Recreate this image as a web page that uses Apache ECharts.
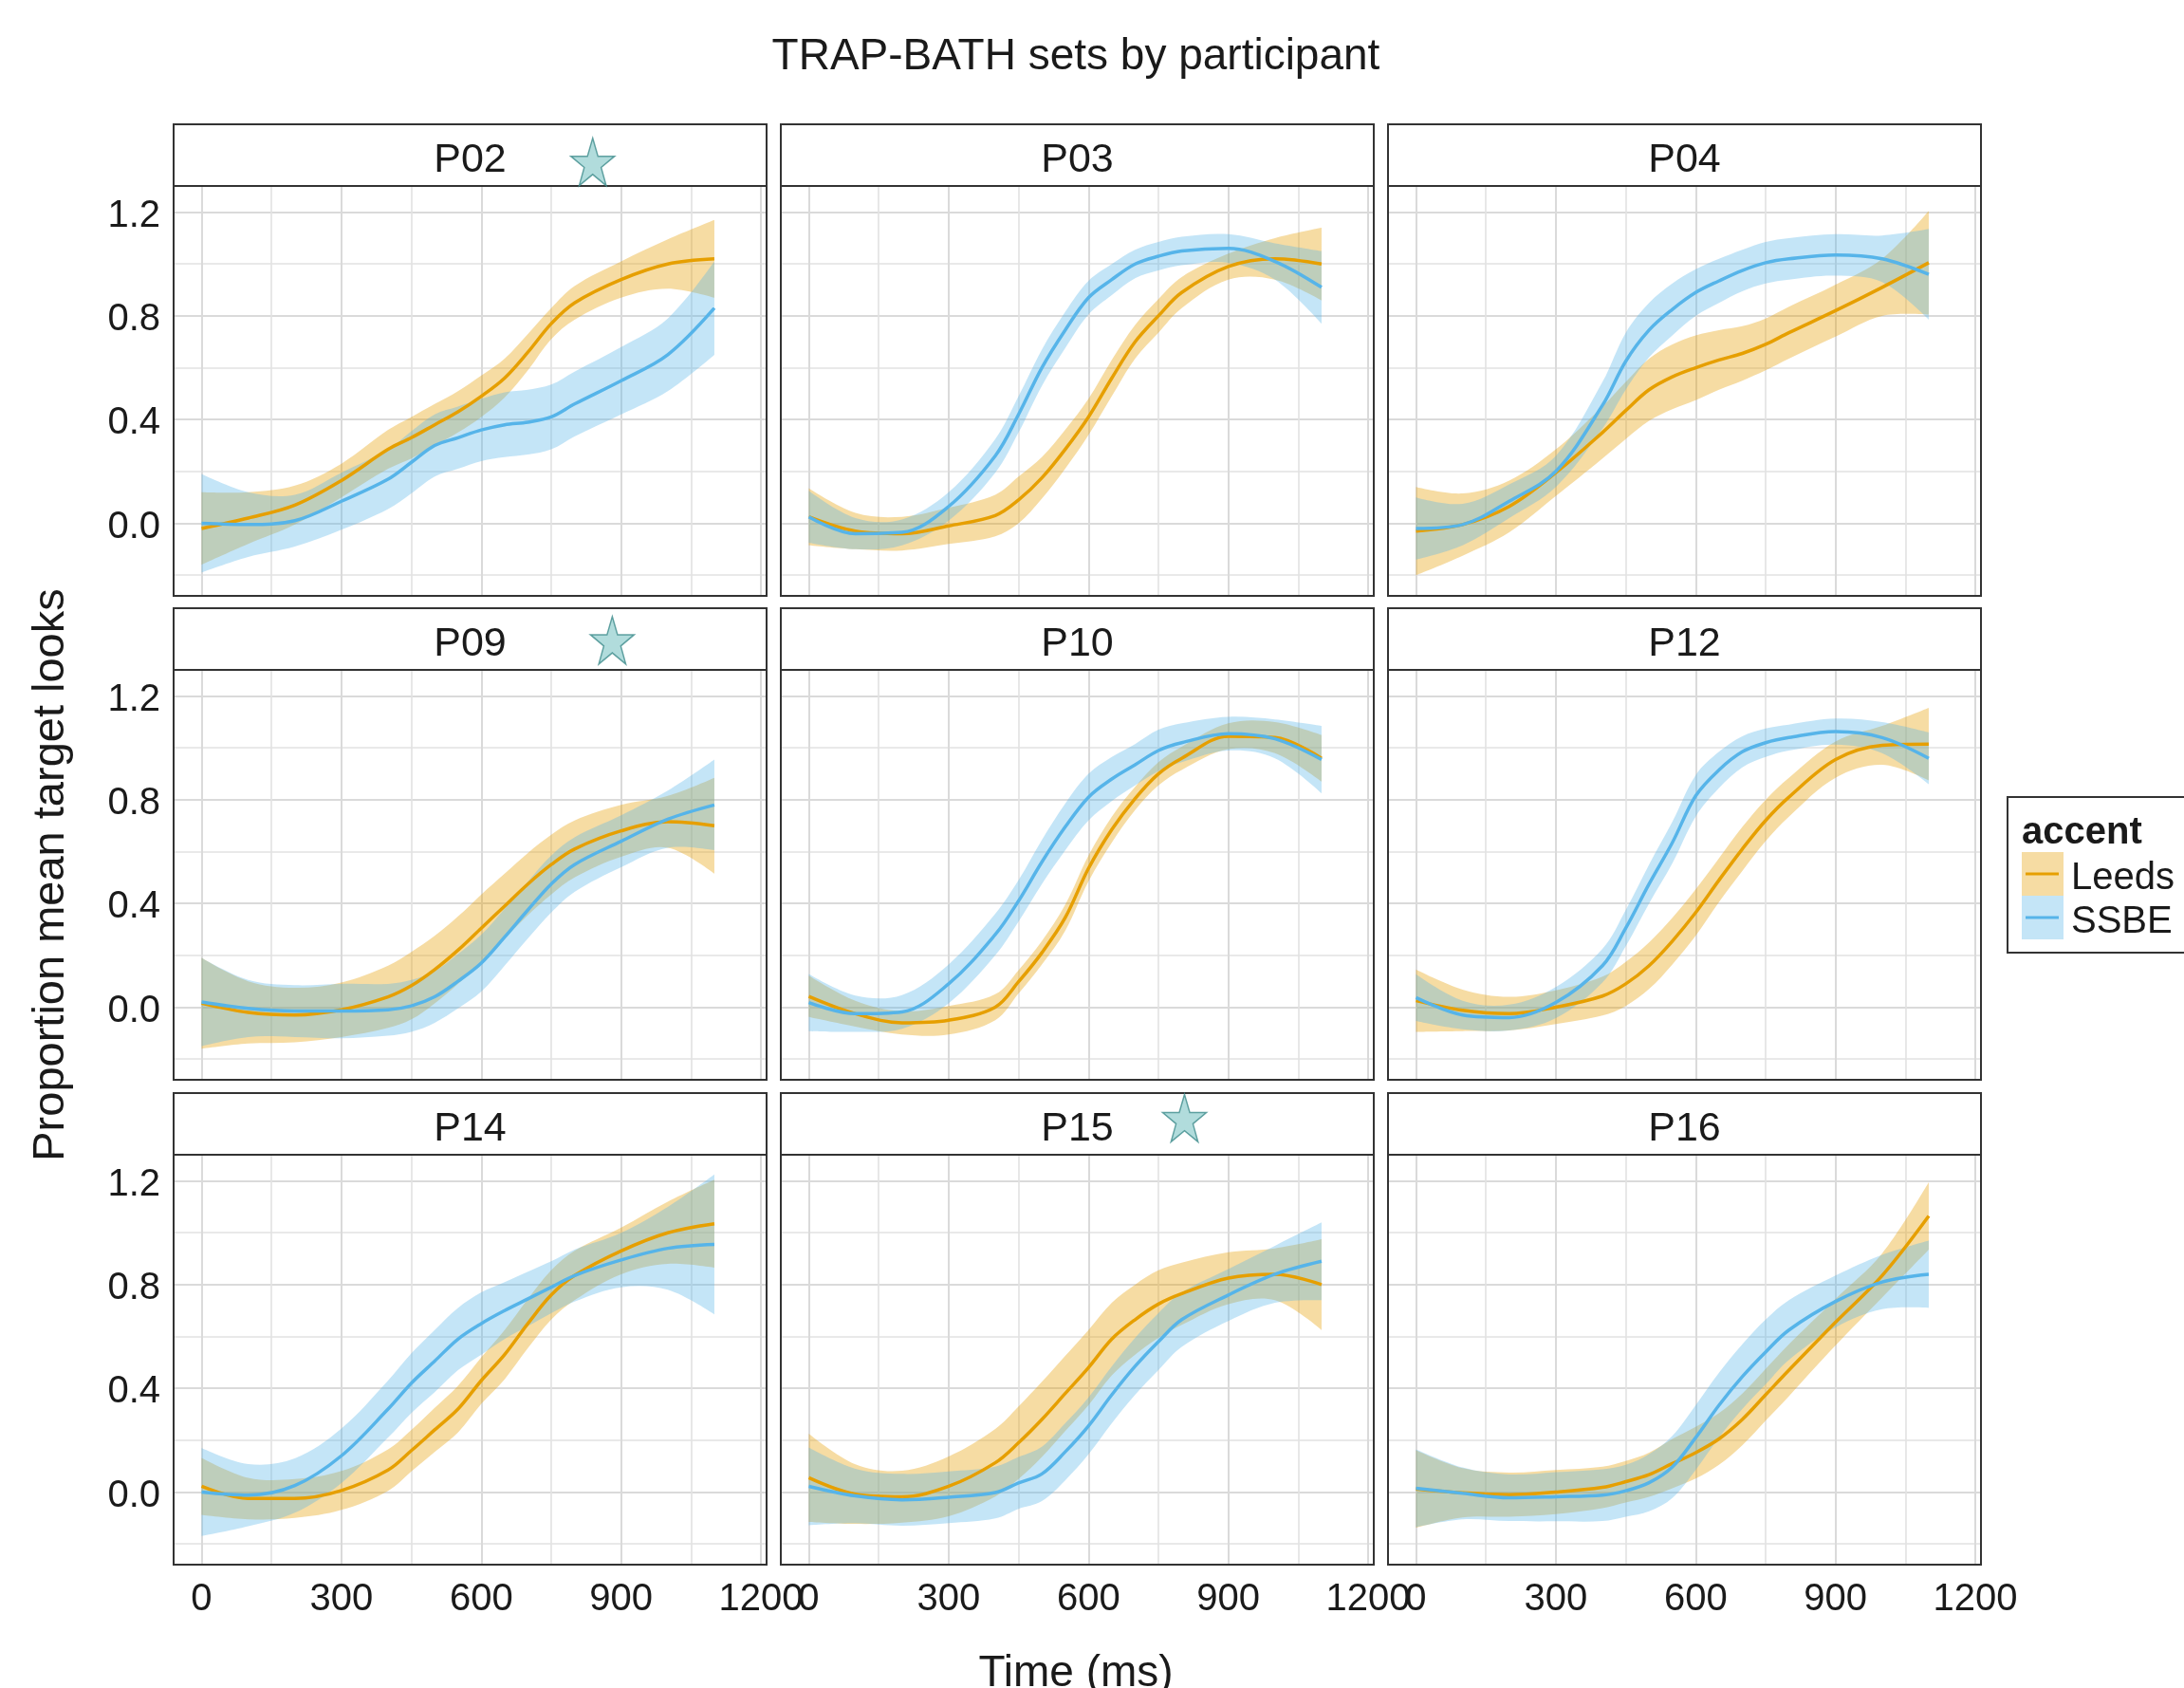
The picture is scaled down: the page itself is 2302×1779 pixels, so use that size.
<!DOCTYPE html>
<html>
<head>
<meta charset="utf-8">
<title>TRAP-BATH sets by participant</title>
<script src="https://cdn.jsdelivr.net/npm/echarts@6/dist/echarts.min.js"></script>
<style>
html, body { margin: 0; padding: 0; background: #fff; }
#chart { width: 2302px; height: 1779px; }
</style>
</head>
<body>
<div id="chart"></div>
<script>
// time points (ms) the curves were read at
var times = [0, 100, 200, 300, 400, 450, 500, 550, 600, 650, 700, 750, 800, 900, 1000, 1100];
var panels = ['P02', 'P03', 'P04', 'P09', 'P10', 'P12', 'P14', 'P15', 'P16'];
var accents = ['Leeds', 'SSBE'];
var xTicks = [0, 300, 600, 900, 1200];
var xMinor = [150, 450, 750, 1050];
var yTicks = [0, 0.4, 0.8, 1.2];
var yMinor = [-0.2, 0.2, 0.6, 1.0];

// fitted mean and half width of the ribbon, per participant and accent
var p02Leeds   = [-0.02, 0.02, 0.07, 0.165, 0.285, 0.33, 0.38, 0.43, 0.49, 0.56, 0.66, 0.77, 0.85, 0.94, 1.0, 1.02];
var p02LeedsCi = [0.14, 0.10, 0.075, 0.065, 0.075, 0.08, 0.08, 0.08, 0.08, 0.075, 0.07, 0.06, 0.065, 0.07, 0.095, 0.15];
var p02Ssbe    = [0.0, -0.005, 0.01, 0.085, 0.17, 0.235, 0.3, 0.33, 0.36, 0.38, 0.39, 0.41, 0.46, 0.55, 0.65, 0.83];
var p02SsbeCi  = [0.19, 0.125, 0.1, 0.11, 0.115, 0.12, 0.12, 0.12, 0.12, 0.125, 0.125, 0.125, 0.125, 0.13, 0.14, 0.18];

var p03Leeds   = [0.025, -0.03, -0.04, -0.01, 0.03, 0.09, 0.175, 0.285, 0.41, 0.56, 0.70, 0.80, 0.89, 0.99, 1.02, 1.0];
var p03LeedsCi = [0.11, 0.07, 0.065, 0.07, 0.08, 0.09, 0.08, 0.075, 0.07, 0.07, 0.065, 0.065, 0.06, 0.05, 0.08, 0.14];
var p03Ssbe    = [0.025, -0.04, -0.035, 0.065, 0.26, 0.42, 0.6, 0.745, 0.87, 0.94, 1.0, 1.03, 1.05, 1.06, 1.01, 0.91];
var p03SsbeCi  = [0.1, 0.06, 0.05, 0.055, 0.065, 0.07, 0.07, 0.07, 0.065, 0.06, 0.055, 0.055, 0.055, 0.055, 0.07, 0.14];

var p04Leeds   = [-0.03, -0.005, 0.065, 0.195, 0.35, 0.435, 0.515, 0.565, 0.6, 0.63, 0.655, 0.69, 0.735, 0.82, 0.91, 1.005];
var p04LeedsCi = [0.17, 0.12, 0.1, 0.09, 0.1, 0.11, 0.12, 0.125, 0.125, 0.115, 0.105, 0.1, 0.1, 0.1, 0.11, 0.2];
var p04Ssbe    = [-0.02, -0.005, 0.085, 0.2, 0.455, 0.625, 0.745, 0.825, 0.89, 0.935, 0.975, 1.005, 1.02, 1.035, 1.02, 0.96];
var p04SsbeCi  = [0.12, 0.08, 0.065, 0.06, 0.09, 0.11, 0.105, 0.1, 0.09, 0.085, 0.08, 0.08, 0.08, 0.08, 0.09, 0.175];

var p09Leeds   = [0.015, -0.02, -0.03, -0.01, 0.04, 0.083, 0.145, 0.22, 0.305, 0.39, 0.475, 0.55, 0.61, 0.68, 0.715, 0.70];
var p09LeedsCi = [0.175, 0.12, 0.105, 0.105, 0.12, 0.13, 0.13, 0.13, 0.13, 0.125, 0.12, 0.115, 0.11, 0.1, 0.1, 0.185];
var p09Ssbe    = [0.02, -0.005, -0.015, -0.015, -0.01, 0.005, 0.04, 0.1, 0.17, 0.27, 0.375, 0.475, 0.55, 0.64, 0.725, 0.78];
var p09SsbeCi  = [0.17, 0.11, 0.1, 0.105, 0.1, 0.1, 0.1, 0.105, 0.11, 0.11, 0.11, 0.11, 0.105, 0.1, 0.11, 0.175];

var p10Leeds   = [0.042, -0.025, -0.06, -0.05, 0.0, 0.098, 0.21, 0.345, 0.535, 0.685, 0.805, 0.9, 0.96, 1.045, 1.04, 0.96];
var p10LeedsCi = [0.08, 0.05, 0.045, 0.055, 0.05, 0.045, 0.045, 0.05, 0.05, 0.05, 0.045, 0.045, 0.045, 0.05, 0.06, 0.09];
var p10Ssbe    = [0.018, -0.025, -0.018, 0.09, 0.28, 0.41, 0.56, 0.695, 0.81, 0.88, 0.935, 0.99, 1.02, 1.055, 1.035, 0.955];
var p10SsbeCi  = [0.11, 0.07, 0.065, 0.075, 0.08, 0.08, 0.085, 0.09, 0.09, 0.085, 0.08, 0.08, 0.075, 0.065, 0.075, 0.13];

var p12Leeds   = [0.025, -0.012, -0.025, 0.0, 0.043, 0.09, 0.16, 0.255, 0.365, 0.49, 0.61, 0.72, 0.81, 0.955, 1.01, 1.015];
var p12LeedsCi = [0.12, 0.08, 0.065, 0.065, 0.075, 0.085, 0.09, 0.09, 0.09, 0.085, 0.085, 0.08, 0.075, 0.07, 0.075, 0.14];
var p12Ssbe    = [0.037, -0.03, -0.04, 0.018, 0.16, 0.305, 0.475, 0.635, 0.815, 0.915, 0.985, 1.02, 1.04, 1.063, 1.04, 0.96];
var p12SsbeCi  = [0.09, 0.055, 0.05, 0.06, 0.065, 0.07, 0.075, 0.08, 0.08, 0.07, 0.06, 0.055, 0.05, 0.05, 0.06, 0.1];

var p14Leeds   = [0.022, -0.025, -0.025, 0.006, 0.085, 0.16, 0.24, 0.32, 0.43, 0.53, 0.65, 0.76, 0.835, 0.93, 1.0, 1.035];
var p14LeedsCi = [0.11, 0.08, 0.075, 0.075, 0.08, 0.08, 0.085, 0.09, 0.09, 0.095, 0.095, 0.095, 0.095, 0.09, 0.12, 0.17];
var p14Ssbe    = [0.0, -0.012, 0.025, 0.14, 0.32, 0.42, 0.505, 0.59, 0.65, 0.70, 0.745, 0.79, 0.835, 0.895, 0.94, 0.955];
var p14SsbeCi  = [0.17, 0.12, 0.105, 0.105, 0.11, 0.115, 0.12, 0.12, 0.12, 0.11, 0.105, 0.1, 0.1, 0.105, 0.16, 0.27];

var p15Leeds   = [0.055, -0.008, -0.018, 0.022, 0.113, 0.19, 0.28, 0.38, 0.48, 0.59, 0.665, 0.725, 0.765, 0.825, 0.84, 0.80];
var p15LeedsCi = [0.17, 0.115, 0.1, 0.115, 0.13, 0.14, 0.145, 0.145, 0.145, 0.14, 0.135, 0.13, 0.12, 0.1, 0.1, 0.175];
var p15Ssbe    = [0.022, -0.015, -0.03, -0.02, -0.002, 0.035, 0.07, 0.155, 0.255, 0.375, 0.485, 0.58, 0.665, 0.76, 0.84, 0.89];
var p15SsbeCi  = [0.15, 0.105, 0.1, 0.1, 0.1, 0.1, 0.105, 0.11, 0.11, 0.11, 0.11, 0.11, 0.105, 0.1, 0.11, 0.15];

var p16Leeds   = [0.012, -0.003, -0.01, 0.0, 0.018, 0.04, 0.067, 0.11, 0.152, 0.205, 0.28, 0.375, 0.47, 0.655, 0.835, 1.065];
var p16LeedsCi = [0.15, 0.095, 0.085, 0.085, 0.08, 0.08, 0.085, 0.095, 0.1, 0.1, 0.1, 0.1, 0.1, 0.09, 0.085, 0.13];
var p16Ssbe    = [0.015, -0.005, -0.022, -0.018, -0.012, 0.005, 0.036, 0.097, 0.21, 0.335, 0.445, 0.54, 0.625, 0.735, 0.81, 0.84];
var p16SsbeCi  = [0.15, 0.1, 0.09, 0.095, 0.1, 0.1, 0.11, 0.12, 0.125, 0.125, 0.125, 0.125, 0.115, 0.1, 0.105, 0.13];

// star markers placed in the strips of some panels
var starPanels = ['P02', 'P09', 'P15'];
var starX = [839, 881, 806];
var starY = [1.394, 1.415, 1.442];

var curves = {
    P02: [[p02Leeds, p02LeedsCi], [p02Ssbe, p02SsbeCi]],
    P03: [[p03Leeds, p03LeedsCi], [p03Ssbe, p03SsbeCi]],
    P04: [[p04Leeds, p04LeedsCi], [p04Ssbe, p04SsbeCi]],
    P09: [[p09Leeds, p09LeedsCi], [p09Ssbe, p09SsbeCi]],
    P10: [[p10Leeds, p10LeedsCi], [p10Ssbe, p10SsbeCi]],
    P12: [[p12Leeds, p12LeedsCi], [p12Ssbe, p12SsbeCi]],
    P14: [[p14Leeds, p14LeedsCi], [p14Ssbe, p14SsbeCi]],
    P15: [[p15Leeds, p15LeedsCi], [p15Ssbe, p15SsbeCi]],
    P16: [[p16Leeds, p16LeedsCi], [p16Ssbe, p16SsbeCi]]
};

var lineColors = ['#E69F00', '#56B4E9'];
var fillColors = ['rgba(230,159,0,0.36)', 'rgba(86,180,233,0.35)'];
var FONT = '"Liberation Sans", Arial, sans-serif';
var SMOOTH = 0.35;
var starPath = 'path://M50,0 L61.8,35.4 L99,35.4 L69,57.3 L80.3,92.7 L50,70.8 L19.7,92.7 L31,57.3 L1,35.4 L38.2,35.4 Z';

var colLeft = [183, 823, 1463];
var rowTop = [196, 706, 1217];
var panelW = 625, panelH = 432, stripH = 65;

// bezier path through pixel points, same control point rule as echarts line smoothing
function curvePath(pts, start) {
    var n = pts.length;
    var cps = pts.map(function (p, k) {
        if (k === 0 || k === n - 1) return [p, p];
        var prev = pts[k - 1], next = pts[k + 1];
        var vx = next[0] - prev[0], vy = next[1] - prev[1];
        var l0 = Math.hypot(p[0] - prev[0], p[1] - prev[1]);
        var l1 = Math.hypot(next[0] - p[0], next[1] - p[1]);
        var r = l1 / (l0 + l1);
        return [[p[0] - vx * SMOOTH * (1 - r), p[1] - vy * SMOOTH * (1 - r)],
                [p[0] + vx * SMOOTH * r, p[1] + vy * SMOOTH * r]];
    });
    var d = start + pts[0][0] + ',' + pts[0][1];
    for (var k = 0; k < n - 1; k++) {
        d += ' C' + cps[k][1][0] + ',' + cps[k][1][1] + ' ' + cps[k + 1][0][0] + ',' + cps[k + 1][0][1] +
             ' ' + pts[k + 1][0] + ',' + pts[k + 1][1];
    }
    return d;
}

function ribbon(i, mean, ci, color) {
    var rows = times.map(function (t, k) { return [t, mean[k] - ci[k], mean[k] + ci[k]]; });
    return {
        type: 'custom', xAxisIndex: i, yAxisIndex: i, silent: true, z: 2,
        encode: { x: 0, y: [1, 2] },
        data: rows,
        renderItem: function (params, api) {
            if (params.dataIndex !== 0) return;
            var up = rows.map(function (d) { return api.coord([d[0], d[2]]); });
            var lo = rows.map(function (d) { return api.coord([d[0], d[1]]); }).reverse();
            var path = curvePath(up, 'M') + ' ' + curvePath(lo, 'L') + ' Z';
            return { type: 'path', shape: { pathData: path }, style: { fill: color } };
        }
    };
}

var myChart = echarts.init(document.getElementById('chart'));

var grids = [], xAxes = [], yAxes = [], series = [], graphics = [];

panels.forEach(function (name, i) {
    var c = i % 3, r = Math.floor(i / 3);
    var left = colLeft[c], top = rowTop[r];

    grids.push({
        left: left, top: top, width: panelW, height: panelH,
        show: true, z: 10, backgroundColor: 'transparent',
        borderColor: '#333', borderWidth: 2
    });
    xAxes.push({
        type: 'value', gridIndex: i, min: -60, max: 1212,
        axisLine: { show: false }, splitLine: { show: false },
        axisTick: { show: r === 2, customValues: xTicks, length: 8, lineStyle: { color: '#333', width: 2 } },
        axisLabel: {
            show: r === 2, customValues: xTicks, margin: 17, fontSize: 40, color: '#1a1a1a', fontFamily: FONT,
            formatter: function (v) { return String(v); }
        }
    });
    yAxes.push({
        type: 'value', gridIndex: i, min: -0.28, max: 1.301,
        axisLine: { show: false }, splitLine: { show: false },
        axisTick: { show: c === 0, customValues: yTicks, length: 8, lineStyle: { color: '#333', width: 2 } },
        axisLabel: {
            show: c === 0, customValues: yTicks, margin: 14, fontSize: 40, color: '#1a1a1a', fontFamily: FONT,
            verticalAlign: 'top', lineHeight: 8,
            formatter: function (v) { return v.toFixed(1); }
        }
    });

    // panel grid lines
    var gl = [];
    yMinor.forEach(function (v) { gl.push({ yAxis: v, lineStyle: { color: '#E2E2E2', width: 1.6, type: 'solid' } }); });
    yTicks.forEach(function (v) { gl.push({ yAxis: v, lineStyle: { color: '#DADADA', width: 2, type: 'solid' } }); });
    xMinor.forEach(function (v) { gl.push({ xAxis: v, lineStyle: { color: '#E2E2E2', width: 1.6, type: 'solid' } }); });
    xTicks.forEach(function (v) { gl.push({ xAxis: v, lineStyle: { color: '#DADADA', width: 2, type: 'solid' } }); });
    series.push({
        type: 'line', xAxisIndex: i, yAxisIndex: i, data: [], silent: true, z: 1,
        markLine: { z: 1, silent: true, symbol: ['none', 'none'], label: { show: false }, animation: false, data: gl }
    });

    accents.forEach(function (acc, a) {
        var mean = curves[name][a][0], ci = curves[name][a][1];
        series.push(ribbon(i, mean, ci, fillColors[a]));
        series.push({
            type: 'line', name: acc, xAxisIndex: i, yAxisIndex: i, z: 2,
            smooth: SMOOTH, symbol: 'none', silent: true,
            lineStyle: { color: lineColors[a], width: 3.5 },
            data: times.map(function (t, k) { return [t, mean[k]]; })
        });
    });

    var s = starPanels.indexOf(name);
    if (s >= 0) {
        series.push({
            type: 'scatter', xAxisIndex: i, yAxisIndex: i, clip: false, z: 20, silent: true,
            symbol: starPath, symbolSize: [46, 50],
            itemStyle: { color: '#9ED3D3', borderColor: '#3F8C8C', borderWidth: 1.5 },
            data: [[starX[s], starY[s]]]
        });
    }

    // facet strip
    graphics.push({
        type: 'rect', shape: { x: left, y: top - stripH, width: panelW, height: stripH },
        style: { fill: '#fff', stroke: '#333', lineWidth: 2 }, z: 5
    });
    graphics.push({
        type: 'text', z: 6,
        style: {
            text: name, x: left + panelW / 2, y: top - stripH / 2 + 6,
            textAlign: 'center', textVerticalAlign: 'middle',
            font: '43px ' + FONT, fill: '#1a1a1a'
        }
    });
});

// titles
graphics.push({
    type: 'text', z: 6,
    style: { text: 'TRAP-BATH sets by participant', x: 1134, y: 60, textAlign: 'center', textVerticalAlign: 'middle', font: '46px ' + FONT, fill: '#1a1a1a' }
});
graphics.push({
    type: 'text', z: 6,
    style: { text: 'Time (ms)', x: 1134, y: 1764, textAlign: 'center', textVerticalAlign: 'middle', font: '46px ' + FONT, fill: '#1a1a1a' }
});
graphics.push({
    type: 'text', z: 6, x: 54, y: 922, rotation: Math.PI / 2,
    style: { text: 'Proportion mean target looks', x: 0, y: 0, textAlign: 'center', textVerticalAlign: 'middle', font: '47px ' + FONT, fill: '#1a1a1a' }
});

// legend
graphics.push({
    type: 'rect', z: 5, shape: { x: 2116, y: 840, width: 220, height: 164 },
    style: { fill: '#fff', stroke: '#333', lineWidth: 2 }
});
graphics.push({
    type: 'text', z: 6,
    style: { text: 'accent', x: 2131, y: 878, textVerticalAlign: 'middle', font: 'bold 40px ' + FONT, fill: '#1a1a1a' }
});
accents.forEach(function (acc, a) {
    var ky = 898 + a * 46;
    graphics.push({ type: 'rect', z: 6, shape: { x: 2131, y: ky, width: 44, height: 46 }, style: { fill: fillColors[a] } });
    graphics.push({ type: 'line', z: 7, shape: { x1: 2135, y1: ky + 23, x2: 2170, y2: ky + 23 }, style: { stroke: lineColors[a], lineWidth: 3 } });
    graphics.push({
        type: 'text', z: 7,
        style: { text: acc, x: 2183, y: ky + 28, textVerticalAlign: 'middle', font: '40px ' + FONT, fill: '#1a1a1a' }
    });
});

myChart.setOption({
    backgroundColor: '#fff',
    animation: false,
    grid: grids,
    xAxis: xAxes,
    yAxis: yAxes,
    series: series,
    graphic: { elements: graphics }
});
</script>
</body>
</html>
